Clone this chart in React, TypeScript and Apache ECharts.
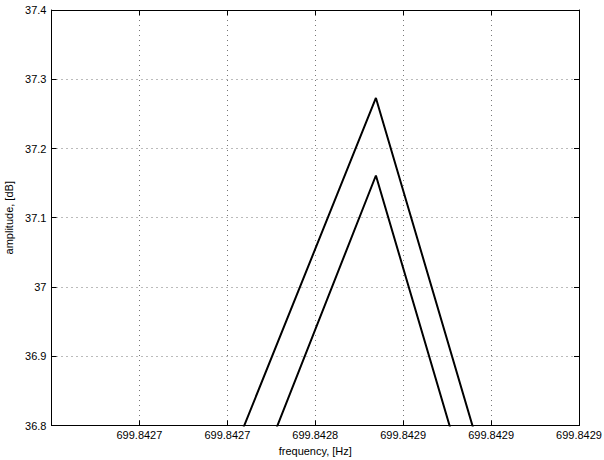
import React, { useEffect, useRef } from "react";
import * as echarts from "echarts";

// x positions are in tick-interval units (0 = left edge of axes, 6 = right edge)
const xTickLabels = ["", "699.8427", "699.8427", "699.8428", "699.8429", "699.8429", "699.8429"];
const outerX = [1.243, 3.69, 5.484];
const outerY = [36.5, 37.273, 36.5];
const innerX = [1.64, 3.69, 5.223];
const innerY = [36.5, 37.161, 36.5];
const yMin = 36.8;
const yMax = 37.4;
const yStep = 0.1;

export default function App() {
  const ref = useRef<HTMLDivElement>(null);
  useEffect(() => {
    if (!ref.current) return;
    const chart = echarts.init(ref.current, null, { renderer: "svg" });
    const font = "Liberation Sans, Arial, Helvetica, sans-serif";
    const gridLine = { show: true, lineStyle: { color: "#777", type: [1, 4] as any, width: 1 } };
    const outer = outerX.map((x, i) => [x, outerY[i]]);
    const inner = innerX.map((x, i) => [x, innerY[i]]);
    chart.setOption({
      animation: false,
      backgroundColor: "#fff",
      grid: { left: 51.5, right: 25, top: 10, bottom: 34.5, containLabel: false, outerBoundsMode: "none" },
      xAxis: [
        {
          type: "value",
          min: 0,
          max: 6,
          interval: 1,
          name: "frequency, [Hz]",
          nameLocation: "middle",
          nameGap: 19,
          nameTextStyle: { fontFamily: font, fontSize: 11, color: "#000" },
          axisLine: { show: true, onZero: false, lineStyle: { color: "#000", width: 1 } },
          axisTick: { show: true, inside: true, length: 5, lineStyle: { color: "#000" } },
          axisLabel: {
            fontFamily: font,
            fontSize: 11,
            color: "#000",
            margin: 4,
            formatter: (v: number) => xTickLabels[Math.round(v)] ?? "",
          },
          splitLine: gridLine,
        },
        {
          type: "value",
          position: "top",
          min: 0,
          max: 6,
          interval: 1,
          axisLine: { show: true, onZero: false, lineStyle: { color: "#000", width: 1 } },
          axisTick: { show: true, inside: true, length: 5, lineStyle: { color: "#000" } },
          axisLabel: { show: false },
          splitLine: { show: false },
        },
      ],
      yAxis: [
        {
          type: "value",
          min: yMin,
          max: yMax,
          interval: yStep,
          name: "amplitude, [dB]",
          nameLocation: "middle",
          nameGap: 31,
          nameTextStyle: { fontFamily: font, fontSize: 11, color: "#000" },
          axisLine: { show: true, onZero: false, lineStyle: { color: "#000", width: 1 } },
          axisTick: { show: true, inside: true, length: 5, lineStyle: { color: "#000" } },
          axisLabel: {
            fontFamily: font,
            fontSize: 11,
            color: "#000",
            margin: 5,
            formatter: (v: number) => String(Math.round(v * 10) / 10),
          },
          splitLine: gridLine,
        },
        {
          type: "value",
          position: "right",
          min: yMin,
          max: yMax,
          interval: yStep,
          axisLine: { show: true, onZero: false, lineStyle: { color: "#000", width: 1 } },
          axisTick: { show: true, inside: true, length: 5, lineStyle: { color: "#000" } },
          axisLabel: { show: false },
          splitLine: { show: false },
        },
      ],
      series: [
        {
          type: "line",
          data: outer,
          showSymbol: false,
          symbol: "none",
          clip: true,
          lineStyle: { color: "#000", width: 2 },
        },
        {
          type: "line",
          data: inner,
          showSymbol: false,
          symbol: "none",
          clip: true,
          lineStyle: { color: "#000", width: 2 },
        },
      ],
    });
    return () => chart.dispose();
  }, []);
  return (
    <div
      ref={ref}
      style={{ position: "fixed", left: 0, top: 0, width: 604, height: 460, background: "#fff" }}
    />
  );
}
